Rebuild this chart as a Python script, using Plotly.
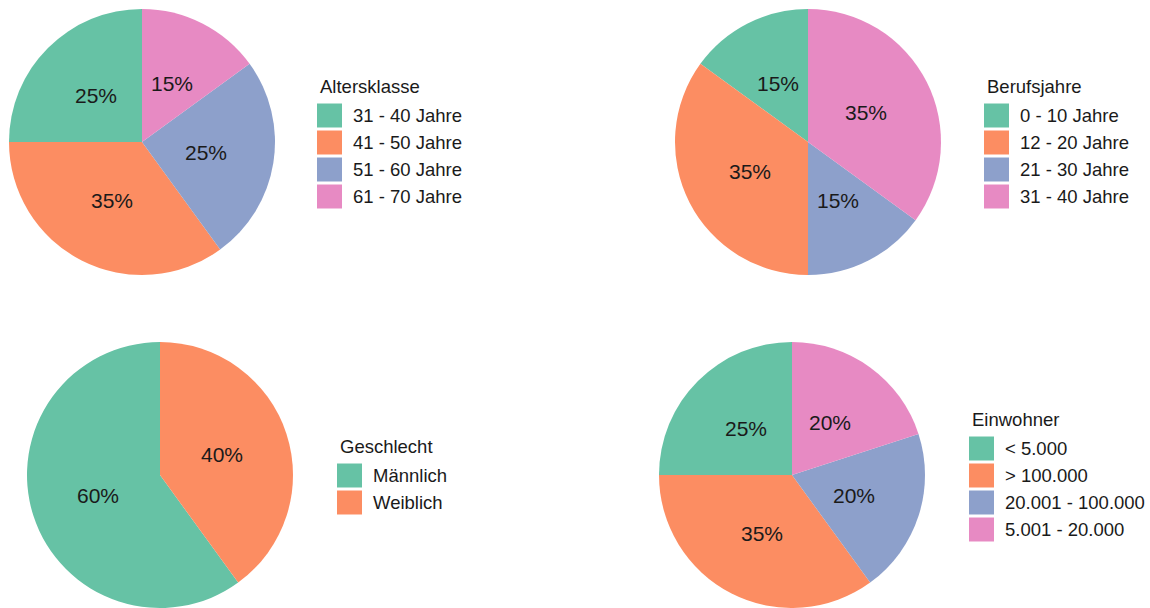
import math

import plotly.graph_objects as go

W, H = 1150, 608

# ~~~~~~~~~~~~ Data ~~~~~~~~~~~~
alter_labels = ["31 - 40 Jahre", "41 - 50 Jahre", "51 - 60 Jahre", "61 - 70 Jahre"]
alter_values = [25, 35, 25, 15]

beruf_labels = ["0 - 10 Jahre", "12 - 20 Jahre", "21 - 30 Jahre", "31 - 40 Jahre"]
beruf_values = [15, 35, 15, 35]

geschlecht_labels = ["Männlich", "Weiblich"]
geschlecht_values = [60, 40]

einwohner_labels = ["< 5.000", "> 100.000", "20.001 - 100.000", "5.001 - 20.000"]
einwohner_values = [25, 35, 20, 20]

SET2 = ["#66C2A5", "#FC8D62", "#8DA0CB", "#E78AC3"]
FONT = "Liberation Sans, Arial, sans-serif"
TEXT_COLOR = "#1a1a1a"

# (title, labels, values, pie centre x, pie centre y, legend left x) in px
panels = [
    ("Altersklasse", alter_labels, alter_values, 142, 142, 317),
    ("Berufsjahre", beruf_labels, beruf_values, 808, 142, 984),
    ("Geschlecht", geschlecht_labels, geschlecht_values, 160, 475, 337),
    ("Einwohner", einwohner_labels, einwohner_values, 792, 475, 969),
]
R = 133
LABEL_R = 0.49 * R
KEY = 24
STEP = 27

fig = go.Figure()
annotations = []
shapes = []


def clamp(v):
    return min(1.0, max(0.0, v))


for title, labels, values, cx, cy, lx in panels:
    colors = SET2[: len(labels)]
    total = sum(values)
    # plotly's counterclockwise pies put the first slice clockwise of `rotation`,
    # so shift back by its angle to make it start at 12 o'clock (like ggplot)
    first_angle = values[0] / total * 360
    fig.add_trace(
        go.Pie(
            labels=labels,
            values=values,
            sort=False,
            direction="counterclockwise",
            rotation=-first_angle,
            marker=dict(colors=colors, line=dict(width=0)),
            textinfo="none",
            hoverinfo="label+percent",
            showlegend=False,
            domain=dict(
                x=[clamp((cx - R) / W), clamp((cx + R) / W)],
                y=[clamp(1 - (cy + R) / H), clamp(1 - (cy - R) / H)],
            ),
        )
    )

    # percentage labels at half radius along the slice mid angle
    cum = 0
    for v in values:
        mid = (cum + v / 2) / total * 2 * math.pi
        cum += v
        px_x = cx - LABEL_R * math.sin(mid)
        px_y = cy - LABEL_R * math.cos(mid)
        annotations.append(
            dict(
                x=px_x / W,
                y=1 - px_y / H,
                xref="paper",
                yref="paper",
                text=f"{v}%",
                showarrow=False,
                xanchor="center",
                yanchor="middle",
                font=dict(family=FONT, size=21, color=TEXT_COLOR),
            )
        )

    # ggplot-style legend: title, then coloured keys
    n = len(labels)
    first = cy - STEP * (n - 1) / 2 + 14
    annotations.append(
        dict(
            x=(lx + 1) / W,
            y=1 - (first - 29) / H,
            xref="paper",
            yref="paper",
            text=title,
            showarrow=False,
            xanchor="left",
            yanchor="middle",
            font=dict(family=FONT, size=18.5, color=TEXT_COLOR),
        )
    )
    for i, (lab, col) in enumerate(zip(labels, colors)):
        yc = first + STEP * i
        shapes.append(
            dict(
                type="rect",
                xref="paper",
                yref="paper",
                x0=lx / W,
                x1=(lx + KEY + 1) / W,
                y0=1 - (yc + KEY / 2) / H,
                y1=1 - (yc - KEY / 2) / H,
                fillcolor=col,
                line=dict(width=0),
            )
        )
        annotations.append(
            dict(
                x=(lx + KEY + 10) / W,
                y=1 - yc / H,
                xref="paper",
                yref="paper",
                text=lab,
                showarrow=False,
                xanchor="left",
                yanchor="middle",
                font=dict(family=FONT, size=18.5, color=TEXT_COLOR),
            )
        )

fig.update_layout(
    width=W,
    height=H,
    margin=dict(l=0, r=0, t=0, b=0),
    paper_bgcolor="white",
    plot_bgcolor="white",
    showlegend=False,
    annotations=annotations,
    shapes=shapes,
)

# drop the browser's default body margin so the figure sits at (0, 0)
fig.write_html(
    "out.html",
    config={"displayModeBar": False},
    post_script="document.body.style.margin='0';",
)
